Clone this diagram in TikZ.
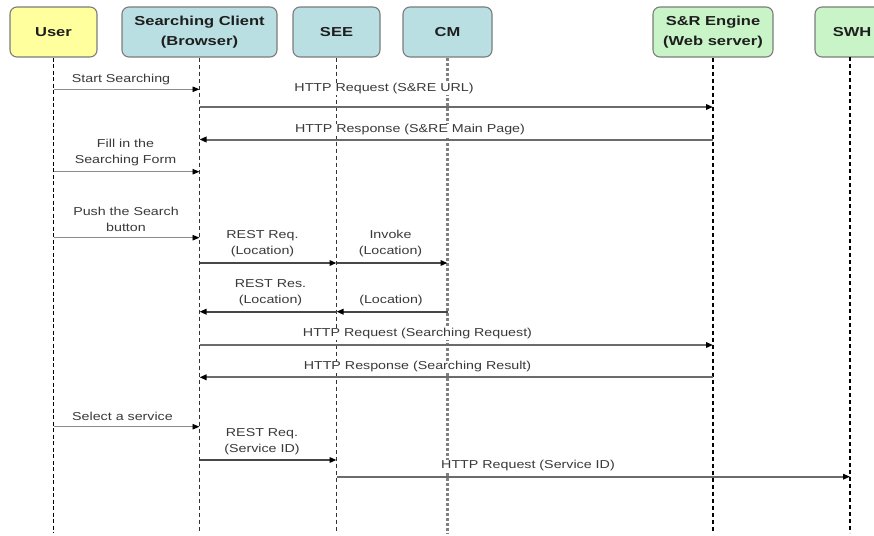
\documentclass[tikz,border=0pt]{standalone}
\usepackage{fontspec}
\usetikzlibrary{arrows.meta}
\newfontfamily\boxfont[FakeStretch=1.27]{Liberation Sans}
\newfontfamily\msgfont[FakeStretch=1.24]{Liberation Sans}
\definecolor{userfill}{HTML}{FFFF9E}
\definecolor{compfill}{HTML}{B9DFE3}
\definecolor{srvfill}{HTML}{C8F4C8}
\definecolor{boxline}{HTML}{7C7C7C}
\definecolor{boxtext}{HTML}{1E1E1E}
\definecolor{labeltext}{HTML}{3A3A3A}
\tikzset{
  actor/.style={draw=boxline, line width=1.1pt, rounded corners=7pt,
    minimum height=50pt, inner sep=0pt, align=center, text=boxtext,
    font=\boxfont\bfseries\fontsize{13}{20}\selectfont},
  life/.style={line width=1pt, draw=black!80, dash pattern=on 4pt off 3pt},
  msgtext/.style={fill=white, inner sep=1pt, align=center, text=labeltext,
    font=\msgfont\fontsize{11.5}{16}\selectfont},
  tip/.style={-{Triangle[length=7pt,width=5.5pt,color=black]}},
  usermsg/.style={tip, draw=black!45, line width=0.9pt},
  webmsg/.style={tip, draw=black!58, line width=2pt},
  restmsg/.style={tip, draw=black!72, line width=2pt},
}
\begin{document}
\begin{tikzpicture}[x=1pt, y=-1pt]
\useasboundingbox (0,0) rectangle (874,535);
\clip (0,0) rectangle (874,535);

% participants
\node[actor, fill=userfill, minimum width=87pt] (u) at (53.5,32) {User};
\node[actor, fill=compfill, minimum width=155pt] (c) at (199.5,32) {Searching Client\\(Browser)};
\node[actor, fill=compfill, minimum width=87pt] (s) at (336.5,32) {SEE};
\node[actor, fill=compfill, minimum width=89pt] (m) at (447.5,32) {CM};
\node[actor, fill=srvfill, minimum width=120pt] (e) at (713,32) {S\&R Engine\\(Web server)};
\node[actor, fill=srvfill, minimum width=74pt] (w) at (852,32) {SWH};

% lifelines (the SWH one runs a little left of its box centre)
\coordinate (wl) at (850,57);
\draw[life, line width=1.8pt, draw=black, dash pattern=on 4pt off 2.5pt] (u.south) -- (u.south |- 0,533);
\draw[life] (c.south) -- (c.south |- 0,533);
\draw[life] (s.south) -- (s.south |- 0,533);
\draw[life, line width=2.3pt, draw=black!50, dash pattern=on 3pt off 2pt] (m.south) -- (m.south |- 0,533);
\draw[life, line width=1.4pt, draw=black] (e.south) -- (e.south |- 0,533);
\draw[life, line width=1.5pt, draw=black] (wl) -- (wl |- 0,533);

% messages
\draw[usermsg] (u.south |- 0,89.3) -- (c.south |- 0,89.3);
\draw[webmsg] (c.south |- 0,107) -- (e.south |- 0,107);
\draw[webmsg] (e.south |- 0,139.5) -- (c.south |- 0,139.5);
\draw[usermsg] (u.south |- 0,171.7) -- (c.south |- 0,171.7);
\draw[usermsg] (u.south |- 0,237.7) -- (c.south |- 0,237.7);
\draw[restmsg] (c.south |- 0,263) -- (s.south |- 0,263);
\draw[restmsg] (s.south |- 0,263) -- (m.south |- 0,263);
\draw[restmsg] (m.south |- 0,311.7) -- (s.south |- 0,311.7);
\draw[restmsg] (s.south |- 0,311.7) -- (c.south |- 0,311.7);
\draw[webmsg] (c.south |- 0,345) -- (e.south |- 0,345);
\draw[webmsg] (e.south |- 0,377.3) -- (c.south |- 0,377.3);
\draw[usermsg] (u.south |- 0,426.7) -- (c.south |- 0,426.7);
\draw[restmsg] (c.south |- 0,460) -- (s.south |- 0,460);
\draw[webmsg, line width=1.6pt] (s.south |- 0,476.7) -- (wl |- 0,476.7);

% message labels
\node[msgtext] (t1) at (121,79.5) {Start Searching};
\node[msgtext] (t2) at (384,89) {HTTP Request (S\&RE URL)};
\node[msgtext] (t3) at (410,130) {HTTP Response (S\&RE Main Page)};
\node[msgtext] (t4) at (125.5,153) {Fill in the\\Searching Form};
\node[msgtext] (t5) at (126,219) {Push the Search\\button};
\node[msgtext] (t6) at (262.5,243.5) {REST Req.\\(Location)};
\node[msgtext] (t7) at (390.5,243.8) {Invoke\\(Location)};
\node[msgtext] (t8) at (270.5,292.5) {REST Res.\\(Location)};
\node[msgtext] (t9) at (391,301) {(Location)};
\node[msgtext] (t10) at (417.5,334) {HTTP Request (Searching Request)};
\node[msgtext] (t11) at (417.5,367) {HTTP Response (Searching Result)};
\node[msgtext] (t12) at (122.5,416) {Select a service};
\node[msgtext] (t13) at (262,441.3) {REST Req.\\(Service ID)};
\node[msgtext] (t14) at (528,466) {HTTP Request (Service ID)};
\end{tikzpicture}
\end{document}
